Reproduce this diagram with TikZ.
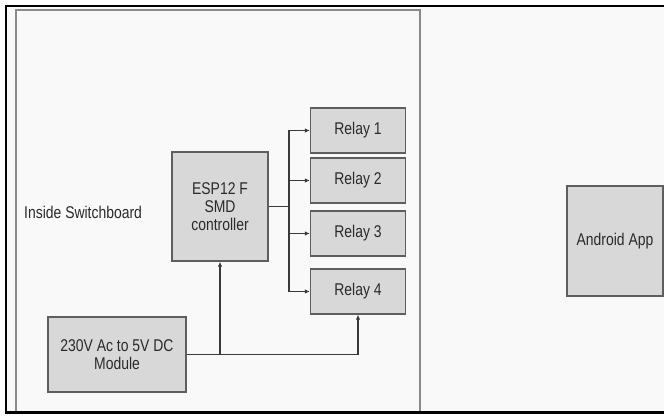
\documentclass[tikz,border=0pt]{standalone}
\usepackage{fontspec}
\setmainfont{Liberation Sans}[FakeStretch=0.82]
\usetikzlibrary{arrows.meta}
\definecolor{boxfill}{HTML}{D8D8D8}
\definecolor{boxline}{HTML}{5E5E5E}
\definecolor{wire}{HTML}{3A3A3A}
\definecolor{panel}{HTML}{8A8A8A}
\definecolor{bg}{HTML}{F9F9F9}
\definecolor{txt}{HTML}{2A2A2A}
\begin{document}
\begin{tikzpicture}[x=1pt,y=-1pt,
  blk/.style={draw=boxline,fill=boxfill,line width=1.3pt,inner sep=0pt,
    align=center,text=txt,font=\fontsize{17}{18.3}\selectfont},
  wireline/.style={draw=wire,line width=1.3pt},
  arr/.style={wireline,-{Latex[length=5pt,width=4.5pt]}},
  lbl/.style={text=txt,font=\fontsize{17}{18.3}\selectfont,inner sep=0pt}]
\useasboundingbox (0,0) rectangle (664,417);
\fill[white] (0,0) rectangle (664,417);
\fill[bg] (6,6) rectangle (664,412.5);
% inner panel
\draw[panel,line width=1.3pt] (16,412) -- (16,10) -- (420,10) -- (420,412);
% outer frame
\draw[black,line width=2.6pt] (664,6) -- (6,6) -- (6,412.5) -- (664,412.5);
% blocks
\node[blk,minimum width=95pt,minimum height=45pt] (r1) at (358,130.5) {Relay 1};
\node[blk,minimum width=95pt,minimum height=45pt] (r2) at (358,180.5) {Relay 2};
\node[blk,minimum width=95pt,minimum height=45pt] (r3) at (358,233.5) {Relay 3};
\node[blk,minimum width=95pt,minimum height=45pt] (r4) at (358,291.5) {Relay 4};
\node[blk,minimum width=96pt,minimum height=109pt] (esp) at (220,206.5) {ESP12 F\\SMD\\controller};
\node[blk,minimum width=138pt,minimum height=75pt] (mod) at (117,354.5) {230V Ac to 5V DC\\Module};
\node[blk,minimum width=96pt,minimum height=110pt] (app) at (615,241) {Android App};
\node[lbl,anchor=west] (inside) at (24,212) {Inside Switchboard};
% connectors
\coordinate (bus) at (289,206.5);
\draw[wireline,line width=1.9pt] (esp.east) -- (bus);
\draw[wireline] (bus |- r1.west) -- (bus |- r4.west);
\draw[arr] (bus |- r1.west) -- (r1.west);
\draw[arr] (bus |- r2.west) -- (r2.west);
\draw[arr] (bus |- r3.west) -- (r3.west);
\draw[arr] (bus |- r4.west) -- (r4.west);
\draw[arr] (mod.east) -- (mod.east -| r4.south) -- (r4.south);
\draw[arr] (mod.east -| esp.south) -- (esp.south);
\end{tikzpicture}
\end{document}
